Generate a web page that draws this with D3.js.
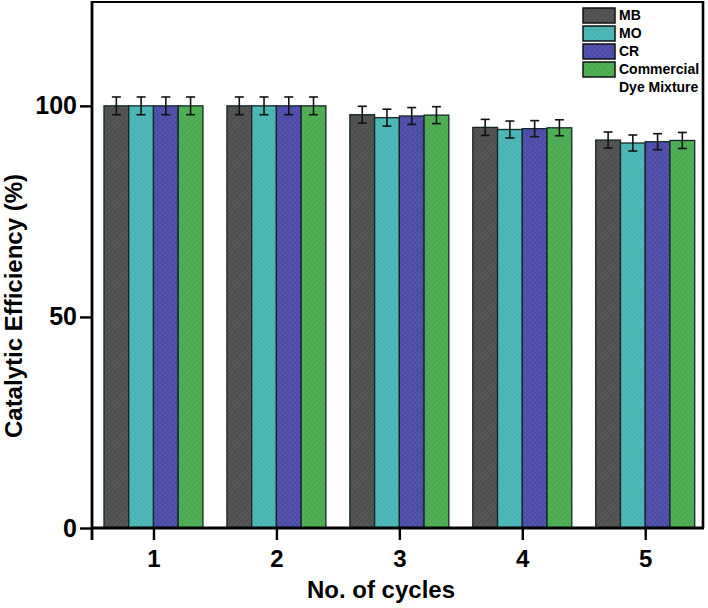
<!DOCTYPE html>
<html>
<head>
<meta charset="utf-8">
<script src="https://cdn.jsdelivr.net/npm/d3@7"></script>
<style>
  html, body { margin: 0; padding: 0; background: #fff; }
  svg { display: block; }
  text { font-family: "Liberation Sans", Arial, sans-serif; font-weight: bold; fill: #000; }
</style>
</head>
<body>
<svg id="chart" width="708" height="608"></svg>
<script>
const cycles = [1, 2, 3, 4, 5];
const seriesNames = ["MB", "MO", "CR", "Commercial Dye Mixture"];
const mbValues = [100, 100, 97.9, 94.9, 91.9];
const moValues = [100, 100, 97.2, 94.4, 91.2];
const crValues = [100, 100, 97.6, 94.6, 91.5];
const dyeValues = [100, 100, 97.8, 94.8, 91.8];
const mbErr = [2.1, 2.1, 2.0, 1.9, 1.9];
const moErr = [2.1, 2.1, 2.0, 2.0, 1.9];
const crErr = [2.1, 2.1, 2.0, 1.9, 1.9];
const dyeErr = [2.1, 2.1, 2.0, 1.9, 1.9];
const yTicks = [0, 50, 100];

const seriesValues = [mbValues, moValues, crValues, dyeValues];
const seriesErr = [mbErr, moErr, crErr, dyeErr];
const colors = ["#505050", "#4ab3b3", "#4b4ba6", "#4cab51"];
const hatchColors = ["#5f5f5f", "#58bfbf", "#5858b3", "#5bb85f"];
const hatchTypes = ["fwd", "back", "cross", "fwd"];

const svg = d3.select("#chart");
const L = 92, R = 703, T = 2, B = 528;

const x = d3.scaleLinear().domain([0.5, 5.47]).range([L, R]);
const y = d3.scaleLinear().domain([0, 124.6]).range([B, T]);
const groupW = (x(2) - x(1)) * 0.805;
const sub = d3.scaleBand().domain(d3.range(seriesNames.length)).range([-groupW / 2, groupW / 2]).padding(0);

// patterns
const defs = svg.append("defs");
hatchTypes.forEach((t, i) => {
  const p = defs.append("pattern").attr("id", "pat" + i)
    .attr("patternUnits", "userSpaceOnUse").attr("width", 5).attr("height", 5);
  p.append("rect").attr("width", 5).attr("height", 5).attr("fill", colors[i]);
  const addLine = (x1, y1, x2, y2) => {
    p.append("line").attr("x1", x1).attr("y1", y1).attr("x2", x2).attr("y2", y2)
      .attr("stroke", hatchColors[i]).attr("stroke-width", 0.9);
  };
  if (t === "fwd" || t === "cross") { addLine(0, 5, 5, 0); addLine(-1, 1, 1, -1); addLine(4, 6, 6, 4); }
  if (t === "back" || t === "cross") { addLine(0, 0, 5, 5); addLine(-1, 4, 1, 6); addLine(4, -1, 6, 1); }
});

// bars
seriesNames.forEach((name, si) => {
  const g = svg.append("g");
  g.selectAll("rect").data(cycles).enter().append("rect")
    .attr("x", (c) => x(c) + sub(si))
    .attr("y", (c, i) => y(seriesValues[si][i]))
    .attr("width", sub.bandwidth())
    .attr("height", (c, i) => y(0) - y(seriesValues[si][i]))
    .attr("fill", "url(#pat" + si + ")")
    .attr("stroke", "#142626").attr("stroke-width", 1.3);
  cycles.forEach((c, i) => {
    const cx = x(c) + sub(si) + sub.bandwidth() / 2;
    const v = seriesValues[si][i], e = seriesErr[si][i];
    const eb = svg.append("g").attr("stroke", "#111").attr("stroke-width", 1.6);
    eb.append("line").attr("x1", cx).attr("x2", cx).attr("y1", y(v + e)).attr("y2", y(v - e));
    eb.append("line").attr("x1", cx - 4.5).attr("x2", cx + 4.5).attr("y1", y(v + e)).attr("y2", y(v + e));
    eb.append("line").attr("x1", cx - 4.5).attr("x2", cx + 4.5).attr("y1", y(v - e)).attr("y2", y(v - e));
  });
});

// frame
svg.append("line").attr("x1", L).attr("x2", R).attr("y1", T).attr("y2", T).attr("stroke", "#000").attr("stroke-width", 2.2);
svg.append("line").attr("x1", R).attr("x2", R).attr("y1", T - 1).attr("y2", B).attr("stroke", "#000").attr("stroke-width", 2.6);

// axes
const xAxis = d3.axisBottom(x).tickValues(cycles).tickSize(12).tickPadding(10).tickFormat(d3.format("d"));
const gx = svg.append("g").attr("transform", `translate(0,${B})`).call(xAxis);
gx.select(".domain").attr("stroke", "#000").attr("stroke-width", 2.8).attr("d", `M${L - 1},0H${R + 1}`);
gx.selectAll(".tick line").attr("stroke", "#000").attr("stroke-width", 2.4);
gx.selectAll(".tick text").style("font-size", "24px").style("font-weight", "bold")
  .style("font-family", "'Liberation Sans', Arial, sans-serif").attr("fill", "#000");

const yAxis = d3.axisLeft(y).tickValues(yTicks).tickSize(12).tickPadding(3).tickFormat(d3.format("d"));
const gy = svg.append("g").attr("transform", `translate(${L},0)`).call(yAxis);
gy.select(".domain").attr("stroke", "#000").attr("stroke-width", 2.8).attr("d", `M0,${B + 12}V${T - 1}`);
gy.selectAll(".tick line").attr("stroke", "#000").attr("stroke-width", 2.4);
gy.selectAll(".tick text").style("font-size", "25px").style("font-weight", "bold")
  .style("font-family", "'Liberation Sans', Arial, sans-serif").attr("fill", "#000");

// axis titles
svg.append("text").attr("x", 381).attr("y", 598).attr("text-anchor", "middle")
  .style("font-size", "24px").text("No. of cycles");
svg.append("text").attr("transform", "translate(22,306) rotate(-90)").attr("text-anchor", "middle")
  .style("font-size", "24px").text("Catalytic Efficiency (%)");

// legend
const leg = svg.append("g");
const legendLabels = [["MB"], ["MO"], ["CR"], ["Commercial", "Dye Mixture"]];
seriesNames.forEach((n, i) => {
  const yy = 8 + i * 18;
  leg.append("rect").attr("x", 583).attr("y", yy).attr("width", 32).attr("height", 15)
    .attr("fill", "url(#pat" + i + ")").attr("stroke", "#111").attr("stroke-width", 1.5);
  legendLabels[i].forEach((t, k) => {
    leg.append("text").attr("x", 619).attr("y", yy + 12 + k * 18).style("font-size", "14px").text(t);
  });
});
</script>
</body>
</html>
